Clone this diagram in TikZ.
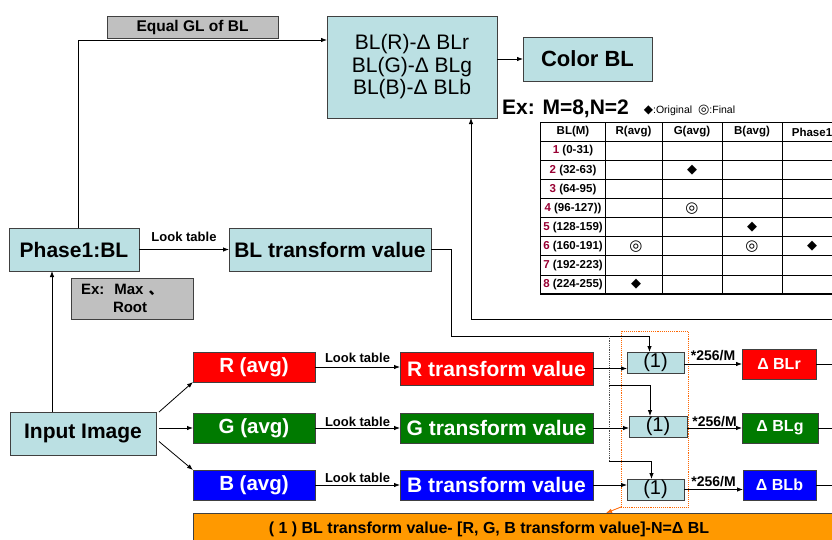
\documentclass[tikz,border=0pt]{standalone}
\usepackage{fontspec}
\setmainfont{Liberation Sans}
\newfontfamily\cjkf{Noto Sans CJK SC}
\newfontfamily\symf{DejaVu Sans}
\usetikzlibrary{arrows.meta}
\definecolor{lcyan}{HTML}{BBE0E3}
\definecolor{lgray}{HTML}{C0C0C0}
\definecolor{dred}{HTML}{990033}
\definecolor{orng}{HTML}{FF9900}
\definecolor{grn}{HTML}{007A00}
\definecolor{dotor}{HTML}{FF6600}
\begin{document}
\begin{tikzpicture}[x=1pt,y=-1pt,
 every node/.style={inner sep=0pt, outer sep=0pt},
 box/.style={draw=black!75, line width=0.9pt, rectangle},
 cyanbox/.style={box, fill=lcyan},
 graybox/.style={box, fill=lgray},
 colbox/.style={box, text=white, font=\fontsize{20.5}{22}\selectfont\bfseries},
 big/.style={font=\fontsize{21}{24}\selectfont\bfseries},
 lbl/.style={font=\fontsize{13}{14}\selectfont\bfseries},
 tbl/.style={font=\fontsize{11.5}{13}\selectfont\bfseries},
 mk/.style={font=\fontsize{13}{14}\selectfont\symf\bfseries},
 mkc/.style={font=\fontsize{15}{16}\selectfont\symf\bfseries},
 arr/.style={-{Latex[length=6pt,width=4.5pt]}, line width=0.8pt},
 ln/.style={line width=0.8pt},
]
\clip (0,0) rectangle (832,539);
\fill[white] (0,0) rectangle (832,539);

% ---- top part
\node[graybox, minimum width=171, minimum height=22, font=\fontsize{15.5}{17}\selectfont\bfseries] (eqgl) at (192.5,27) {Equal GL of BL};
\node[cyanbox, minimum width=170, minimum height=102, align=center, font=\fontsize{21}{22.5}\selectfont] (top) at (412,67) {BL(R)-Δ BLr\\BL(G)-Δ BLg\\BL(B)-Δ BLb};
\node[cyanbox, minimum width=129, minimum height=44, font=\fontsize{22}{24}\selectfont\bfseries] (color) at (587.5,59) {Color BL};

\node[font=\fontsize{21}{24}\selectfont\bfseries] (ex) at (565.5,109) {Ex: M=8,N=2};
\node[font=\fontsize{10.5}{12}\selectfont] (leg) at (689.5,110) {{\symf\fontsize{12}{12}\selectfont ◆}:Original\ \ {\symf\bfseries\fontsize{13}{12}\selectfont ◎}:Final};

% ---- table
\draw[line width=1.1pt] (540.7,122.5) rectangle (850,294);
\foreach \xx in {605,662,722,782} \draw[ln] (\xx,122.5) -- (\xx,294);
\foreach \i in {0,...,7} \draw[ln] (540.7,{141.5+19.06*\i}) -- (850,{141.5+19.06*\i});
\node[tbl] (h1) at (573,132) {BL(M)};
\node[tbl] (h2) at (633.5,132) {R(avg)};
\node[tbl] (h3) at (692,132) {G(avg)};
\node[tbl] (h4) at (752,132) {B(avg)};
\node[tbl] (h5) at (812,132) {Phase1};
\node[tbl] (r1) at (573,151.0) {\textcolor{dred}{1} (0-31)};
\node[tbl] (r2) at (573,170.1) {\textcolor{dred}{2} (32-63)};
\node[tbl] (r3) at (573,189.2) {\textcolor{dred}{3} (64-95)};
\node[tbl] (r4) at (573,208.2) {\textcolor{dred}{4} (96-127))};
\node[tbl] (r5) at (573,227.3) {\textcolor{dred}{5} (128-159)};
\node[tbl] (r6) at (573,246.3) {\textcolor{dred}{6} (160-191)};
\node[tbl] (r7) at (573,265.4) {\textcolor{dred}{7} (192-223)};
\node[tbl] (r8) at (573,284.5) {\textcolor{dred}{8} (224-255)};
\node[mk] (m1) at (692,170.1) {◆};
\node[mkc] (m2) at (692,208.2) {◎};
\node[mk] (m3) at (752,227.3) {◆};
\node[mkc] (m4) at (636,246.3) {◎};
\node[mkc] (m5) at (752,246.3) {◎};
\node[mk] (m6) at (812,246.3) {◆};
\node[mk] (m7) at (636,284.5) {◆};

% ---- middle
\node[cyanbox, minimum width=130, minimum height=43, big] (phase) at (74,249.5) {Phase1:BL};
\node[cyanbox, minimum width=202, minimum height=43, big] (bltv) at (330,249.5) {BL transform value};
\node[graybox, minimum height=41, text width=102pt, inner xsep=10pt, align=left, font=\fontsize{15}{17.5}\selectfont\bfseries] (exmax) at (132,298.5) {Ex:\ \ Max {\cjkf 、}\\\hspace*{32pt}Root};
\node[cyanbox, minimum width=146, minimum height=43, big] (input) at (83,433.5) {Input Image};

% ---- colour rows
\node[colbox, fill=red, minimum width=122, minimum height=30] (ravg) at (254,367) {R (avg)};
\node[colbox, fill=grn, minimum width=122, minimum height=30] (gavg) at (254,428) {G (avg)};
\node[colbox, fill=blue, minimum width=122, minimum height=30] (bavg) at (254,485) {B (avg)};
\node[colbox, big, fill=red, minimum width=193, minimum height=33] (rtv) at (496.5,368.5) {R transform value};
\node[colbox, big, fill=grn, minimum width=193, minimum height=30] (gtv) at (496.5,428) {G transform value};
\node[colbox, big, fill=blue, minimum width=193, minimum height=30] (btv) at (496.5,485) {B transform value};

\node[draw=dotor, densely dotted, line width=0.9pt, minimum width=67, minimum height=176] (grp) at (654.5,419) {};
\node[cyanbox, minimum width=57, minimum height=21, font=\fontsize{20}{22}\selectfont] (one1) at (655.5,362.5) {(1)};
\node[cyanbox, minimum width=58, minimum height=21, font=\fontsize{20}{22}\selectfont] (one2) at (658,426.5) {(1)};
\node[cyanbox, minimum width=57, minimum height=21, font=\fontsize{20}{22}\selectfont] (one3) at (655.5,489.5) {(1)};

\node[colbox, fill=red, minimum width=74, minimum height=30, font=\fontsize{16}{18}\selectfont\bfseries] (dr) at (779,364) {Δ BLr};
\node[colbox, fill=grn, minimum width=76, minimum height=30, font=\fontsize{16}{18}\selectfont\bfseries] (dg) at (780,428) {Δ BLg};
\node[colbox, fill=blue, minimum width=73, minimum height=30, font=\fontsize{16}{18}\selectfont\bfseries] (db) at (779.5,485) {Δ BLb};

\node[box, fill=orng, minimum width=660, minimum height=40, anchor=north west] (banner) at (193,513) {};
\node[font=\fontsize{16}{18}\selectfont\bfseries] (bantext) at (489,529) {( 1 ) BL transform value- [R, G, B transform value]-N=Δ BL};

% ---- coordinates
\coordinate (rin) at (832,319);
\coordinate (k1) at (451,336);
\coordinate (d1) at (609,336);
\coordinate (d3) at (609,385);
\coordinate (d2) at (609,461);
\coordinate (oa) at (606,513);

% ---- connectors
\draw[arr] ([xshift=4pt]phase.north) |- ([yshift=27pt]top.west);
\draw[arr] (top.east |- color.west) -- (color.west);
\draw[arr] (rin) -| ([xshift=59pt]top.south);
\draw[arr] (phase.east) -- (bltv.west) node[midway, above=8pt, lbl] {Look table};
\draw[arr] ([xshift=-31pt]input.north) -- ([xshift=-31pt]input.north |- phase.south);
\draw[arr] ([xshift=3pt]input.north east) -- (ravg.south west);
\draw[arr] ([xshift=3pt]input.east |- gavg.west) -- (gavg.west);
\draw[arr] ([xshift=3pt,yshift=-8pt]input.east) -- (bavg.north west);
\draw[arr] (ravg.east) -- (ravg.east -| rtv.west) node[midway, above=4pt, lbl] {Look table};
\draw[arr] (gavg.east) -- (gavg.east -| gtv.west) node[midway, above=1.5pt, lbl] {Look table};
\draw[arr] (bavg.east) -- (bavg.east -| btv.west) node[midway, above=2.5pt, lbl] {Look table};
\draw[ln] (bltv.east) -| (k1);
\draw[arr] (k1) -| ([xshift=-6pt]one1.north);
\draw[densely dotted, black!70, line width=0.8pt] (d1) -- (d2);
\draw[arr] (d3) -| ([xshift=-8pt]one2.north);
\draw[arr] (d2) -| ([xshift=-4pt]one3.north);
\draw[arr] (rtv.east) -- (rtv.east -| one1.west);
\draw[arr] (gtv.east) -- (gtv.east -| one2.west);
\draw[arr] (btv.east) -- (btv.east -| one3.west);
\draw[arr] (one1.east |- dr.west) -- (dr.west) node[midway, above=3pt, lbl, font=\fontsize{14}{15}\selectfont\bfseries] {*256/M};
\draw[arr] (one2.east |- dg.west) -- (dg.west) node[midway, above=1pt, lbl, font=\fontsize{14}{15}\selectfont\bfseries] {*256/M};
\draw[arr] (one3.east) -- (one3.east -| db.west) node[midway, above=2.5pt, lbl, font=\fontsize{14}{15}\selectfont\bfseries] {*256/M};
\draw[ln] (dr.east) -- (dr.east -| rin);
\draw[ln] (dg.east) -- (dg.east -| rin);
\draw[ln] (db.east) -- (db.east -| rin);
\draw[-{Latex[length=6pt,width=4.5pt]}, draw=dotor, fill=dotor, line width=0.8pt] (grp.south west) -- (oa);
\end{tikzpicture}
\end{document}
